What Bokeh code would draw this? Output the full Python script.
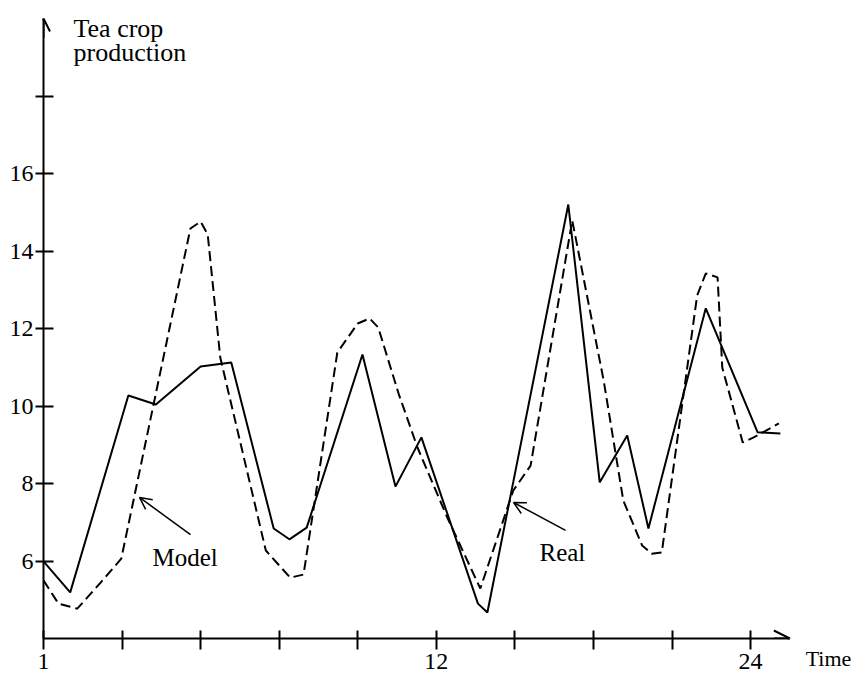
from bokeh.plotting import figure
from bokeh.models import FixedTicker, Arrow, OpenHead, Label
from bokeh.embed import file_html
from bokeh.resources import INLINE

# x in tick-steps from the origin (origin = "1"), y in production units
real_x = [0.0, 0.34, 1.08, 1.43, 2.0, 2.39, 2.93, 3.13, 3.35, 4.06, 4.48, 4.81,
          5.53, 5.65, 6.68, 7.08, 7.43, 7.70, 8.43, 9.09, 9.38]
real_y = [5.99, 5.19, 10.27, 10.04, 11.02, 11.12, 6.84, 6.56, 6.86, 11.33, 7.92, 9.19,
          4.90, 4.67, 15.2, 8.03, 9.24, 6.84, 12.52, 9.32, 9.29]

model_x = [0.0, 0.19, 0.43, 0.73, 0.99, 1.87, 2.00, 2.09, 2.25, 2.83, 3.14, 3.31,
           3.74, 4.00, 4.15, 4.26, 4.52, 4.76, 5.14, 5.56, 5.98, 6.20, 6.73, 7.13,
           7.38, 7.62, 7.74, 7.87, 8.32, 8.43, 8.58, 8.64, 8.90, 9.04, 9.36]
model_y = [5.50, 4.90, 4.77, 5.45, 6.06, 14.58, 14.76, 14.43, 11.25, 6.27, 5.57, 5.65,
           11.38, 12.13, 12.26, 12.03, 10.32, 8.93, 7.12, 5.29, 7.82, 8.46, 14.79, 10.66,
           7.56, 6.40, 6.19, 6.22, 12.85, 13.42, 13.32, 10.99, 9.06, 9.19, 9.55]

x_ticks = [0, 1, 2, 3, 4, 5, 6, 7, 8, 9]
x_tick_labels = {0: "1", 5: "12", 9: "24"}
y_ticks = [6, 8, 10, 12, 14, 16, 18]
y_tick_labels = {6: "6", 8: "8", 10: "10", 12: "12", 14: "14", 16: "16", 18: ""}

FONT = "Liberation Serif"

p = figure(width=856, height=679, x_range=(0, 9.992), y_range=(4, 20),
           output_backend="svg", toolbar_location=None,
           min_border_left=43, min_border_right=28, min_border_top=18, min_border_bottom=41)
p.background_fill_color = "white"
p.border_fill_color = "white"
p.outline_line_color = None
p.grid.visible = False

# axes
p.xaxis.ticker = FixedTicker(ticks=x_ticks)
p.xaxis.major_label_overrides = {k: x_tick_labels.get(k, "") for k in x_ticks}
p.xaxis.bounds = (0, 9.5)
p.yaxis.ticker = FixedTicker(ticks=y_ticks)
p.yaxis.major_label_overrides = y_tick_labels
for ax in (p.xaxis[0], p.yaxis[0]):
    ax.axis_line_width = 2
    ax.axis_line_color = "black"
    ax.major_tick_line_width = 2
    ax.major_tick_line_color = "black"
    ax.minor_tick_line_color = None
    ax.major_label_text_font = FONT
    ax.major_label_text_font_size = "24px"
    ax.major_label_text_color = "black"
p.xaxis.major_tick_in = 8
p.xaxis.major_tick_out = 11
p.xaxis.major_label_standoff = 4
p.yaxis.major_tick_in = 10
p.yaxis.major_tick_out = 8
p.yaxis.major_label_standoff = 2

# "Time" as the x-axis label, at the right end, level with the tick labels
p.xaxis.axis_label = "Time"
p.xaxis.axis_label_text_font = FONT
p.xaxis.axis_label_text_font_size = "22px"
p.xaxis.axis_label_text_font_style = "normal"
p.xaxis.axis_label_text_color = "black"
p.xaxis.axis_label_align = "end"
p.xaxis.axis_label_standoff = -26

# axis arrows
p.add_layout(Arrow(end=OpenHead(size=16, line_width=2, line_color="black"),
                   x_start=9.3, y_start=4, x_end=9.5, y_end=4,
                   line_width=2, line_color="black"))
p.add_layout(Arrow(end=OpenHead(size=13, line_width=2, line_color="black"),
                   x_start=0, y_start=19.5, x_end=0, y_end=20,
                   line_width=2, line_color="black"))

# series
p.line(real_x, real_y, line_color="black", line_width=2)
p.line(model_x, model_y, line_color="black", line_width=2, line_dash="10 5")

# annotations
def lab(x, y, text, size="25px"):
    p.add_layout(Label(x=x, y=y, text=text, text_font=FONT, text_font_size=size,
                       text_color="black", text_baseline="alphabetic", text_align="left"))

lab(0.382, 19.74, "Tea crop", "26px")
lab(0.382, 19.12, "production", "26px")
lab(1.387, 6.09, "Model")
lab(6.313, 6.22, "Real")

p.add_layout(Arrow(end=OpenHead(size=12, line_width=1.5, line_color="black"),
                   x_start=1.871, y_start=6.68, x_end=1.222, y_end=7.64,
                   line_width=1.5, line_color="black"))
p.add_layout(Arrow(end=OpenHead(size=12, line_width=1.5, line_color="black"),
                   x_start=6.645, y_start=6.79, x_end=5.983, y_end=7.51,
                   line_width=1.5, line_color="black"))

open("out.html", "w").write(file_html(p, INLINE))
